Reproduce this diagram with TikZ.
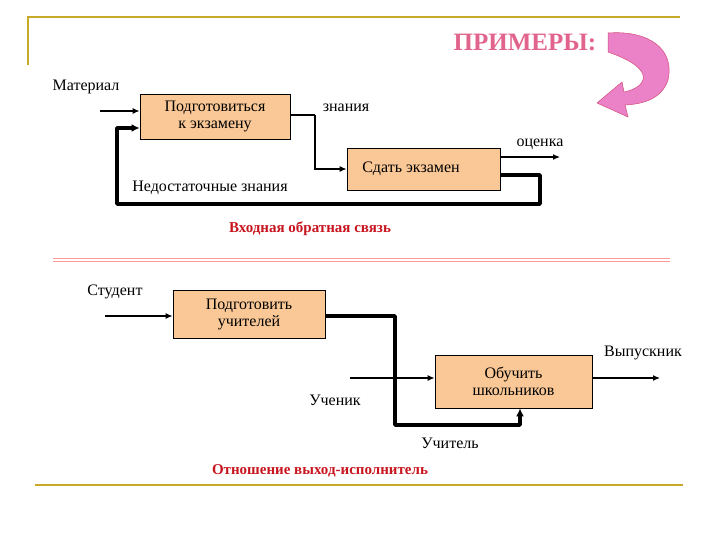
\documentclass[tikz,border=0pt]{standalone}
\usepackage{fontspec}
\setmainfont{Liberation Serif}
\usetikzlibrary{arrows.meta}
\definecolor{peach}{RGB}{250,200,150}
\definecolor{gold}{RGB}{200,170,40}
\definecolor{dred}{RGB}{200,20,30}
\definecolor{pinkt}{RGB}{225,100,140}
\definecolor{pinka}{RGB}{235,130,200}
\begin{document}
\begin{tikzpicture}[x=1pt,y=-1pt,
  box/.style={draw,line width=0.8pt,fill=peach,minimum width=#1,align=center,font=\fontsize{16}{17}\selectfont,inner sep=2pt},
  lbl/.style={font=\fontsize{16}{17}\selectfont,inner sep=1pt},
  ttl/.style={font=\bfseries\fontsize{15}{16}\selectfont,text=dred},
  thin/.style={line width=1.2pt,-{Latex[length=7pt,width=6pt]}},
  thick/.style={line width=3.4pt,-{Latex[length=8pt,width=8pt]}}]
\useasboundingbox (0,0) rectangle (720,540);
\draw[gold,line width=1.4pt] (28,65) -- (28,17) -- (680,17);
\draw[gold,line width=2.2pt] (35,485) -- (683,485);
\draw[pink!80!red,line width=0.7pt] (53,258.5) -- (670,258.5);
\draw[pink!80!red,line width=0.7pt] (53,261.5) -- (670,261.5);
\node[font=\bfseries\fontsize{25}{27}\selectfont,text=pinkt] (pr) at (525,42) {ПРИМЕРЫ:};
\fill[pinka,draw=purple!70,line width=0.5pt] (608,33) .. controls (650,30) and (675,50) .. (668,80)
  .. controls (662,98) and (645,104) .. (625,105) -- (628,117) -- (597,103) -- (622,82) -- (624,92)
  .. controls (645,88) and (660,70) .. (608,52) -- cycle;
% top
\node[box=150pt,minimum height=45pt] (b1) at (215,116.5) {Подготовиться\\к экзамену};
\node[box=153pt,minimum height=42pt] (b2) at (423.5,169) {\hspace*{-25pt}Сдать экзамен};
\node[lbl] (mat) at (86,87) {Материал};
\coordinate (min) at (100,111);
\draw[thin] (min) -- (min -| b1.west);
\node[lbl] (zn) at (346,108) {знания};
\coordinate (k1) at (315,115);
\draw[thin,-] (b1.east |- k1) -- (k1);
\draw[thin] (k1) |- (b2.west);
\node[lbl] (oc) at (540,144) {оценка};
\coordinate (o1) at (560,157);
\draw[thin] (b2.east |- o1) -- (o1);
\coordinate (f1) at (540,175);
\coordinate (f2) at (540,204);
\coordinate (f3) at (117,204);
\coordinate (f4) at (117,128);
\draw[thick,line join=round] (b2.east |- f1) -- (f1) -- (f2) -- (f3) -- (f4) -- (f4 -| b1.west);
\node[lbl] (nz) at (210,188) {Недостаточные знания};
\node[ttl] (t1) at (310,229) {Входная обратная связь};
% bottom
\node[box=152pt,minimum height=48pt] (b3) at (249,314) {Подготовить\\учителей};
\node[box=157pt,minimum height=53pt] (b4) at (513.5,381.5) {Обучить\\школьников};
\node[lbl] (st) at (115,292) {Студент};
\coordinate (s1) at (105,316);
\draw[thin] (s1) -- (s1 -| b3.west);
\coordinate (u1) at (350,378);
\draw[thin] (u1) -- (u1 -| b4.west);
\node[lbl] (uc) at (335,400) {Ученик};
\coordinate (v1) at (660,378);
\draw[thin] (v1 -| b4.east) -- (v1);
\node[lbl] (vy) at (643,353) {Выпускник};
\coordinate (t2) at (395,316);
\coordinate (t3) at (395,425);
\coordinate (t4) at (520,425);
\draw[thick,line join=round] (b3.east |- t2) -- (t2) -- (t3) -- (t4) -- (t4 |- b4.south);
\node[lbl] (ut) at (450,443) {Учитель};
\node[ttl] (t5) at (320,471) {Отношение выход-исполнитель};
\end{tikzpicture}
\end{document}
